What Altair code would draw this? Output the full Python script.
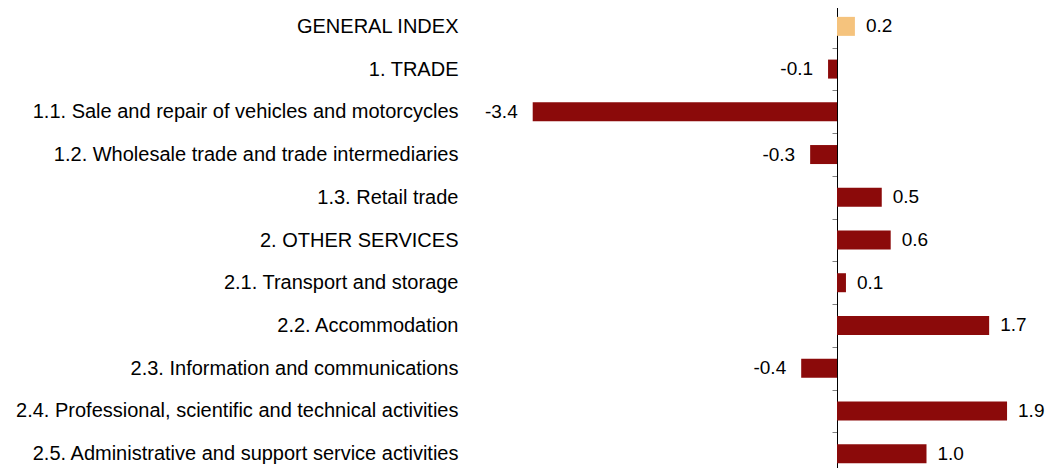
import altair as alt
import pandas as pd

categories = [
    "GENERAL INDEX",
    "1. TRADE",
    "1.1. Sale and repair of vehicles and motorcycles",
    "1.2. Wholesale trade and trade intermediaries",
    "1.3. Retail trade",
    "2. OTHER SERVICES",
    "2.1. Transport and storage",
    "2.2. Accommodation",
    "2.3. Information and communications",
    "2.4. Professional, scientific and technical activities",
    "2.5. Administrative and support service activities",
]
values = [0.2, -0.1, -3.4, -0.3, 0.5, 0.6, 0.1, 1.7, -0.4, 1.9, 1.0]
labels = ["0.2", "-0.1", "-3.4", "-0.3", "0.5", "0.6", "0.1", "1.7", "-0.4", "1.9", "1.0"]
highlight = "GENERAL INDEX"

df = pd.DataFrame({"category": categories, "value": values, "label": labels})

FONT = "Liberation Sans"
FS = 20
VFS = 19

xscale = alt.Scale(domain=[-4.1006, 2.324], nice=False, zero=False)
yscale = alt.Scale(range=[-3, 467], paddingInner=0, paddingOuter=0)

y_enc = alt.Y(
    "category:N",
    sort=categories,
    scale=yscale,
    axis=alt.Axis(
        title=None,
        orient="left",
        offset=-367,
        domain=True,
        domainColor="#000000",
        domainWidth=1,
        ticks=True,
        tickSize=5,
        tickColor="#808080",
        tickBand="extent",
        labelPadding=374,
        labelFontSize=FS,
        labelFont=FONT,
        labelColor="#000000",
        labelLimit=0,
        grid=False,
    ),
)

base = alt.Chart(df)

bars = base.mark_bar(size=19).encode(
    x=alt.X("value:Q", scale=xscale, axis=None),
    y=y_enc,
    color=alt.condition(
        alt.datum.category == highlight, alt.value("#F5C37D"), alt.value("#8B0A0A")
    ),
)

pos_text = base.transform_filter(alt.datum.value >= 0).mark_text(
    align="left", baseline="middle", dx=11, fontSize=VFS, font=FONT, color="#000000"
).encode(
    x=alt.X("value:Q", scale=xscale, axis=None),
    y=alt.Y("category:N", sort=categories, scale=yscale),
    text="label:N",
)

neg_text = base.transform_filter(alt.datum.value < 0).mark_text(
    align="right", baseline="middle", dx=-15, fontSize=VFS, font=FONT, color="#000000"
).encode(
    x=alt.X("value:Q", scale=xscale, axis=None),
    y=alt.Y("category:N", sort=categories, scale=yscale),
    text="label:N",
)

chart = (
    alt.layer(bars, pos_text, neg_text)
    .properties(
        width=575,
        height=460,
        autosize=alt.AutoSizeParams(type="none"),
        padding={"left": 462, "top": 0, "right": 0, "bottom": 0},
    )
    .configure_view(stroke=None)
)

chart.save("out.html", embed_options={"renderer": "svg", "actions": False})
